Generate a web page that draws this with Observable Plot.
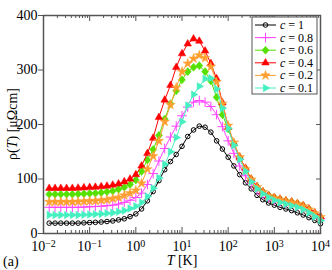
<!DOCTYPE html>
<html><head><meta charset="utf-8">
<script src="https://cdn.jsdelivr.net/npm/d3@7"></script>
<script src="https://cdn.jsdelivr.net/npm/@observablehq/plot@0.6"></script>
<style>
body{margin:0;background:#fff;}
#chart{position:relative;width:332px;height:270px;}
</style></head><body><div id="chart"></div>
<script>
// Temperature grid (K)
const T = [0.0133, 0.0178, 0.0237, 0.0316, 0.0422, 0.0562, 0.075, 0.1, 0.133, 0.178, 0.237, 0.316, 0.422, 0.562, 0.75,
  1, 1.33, 1.78, 2.37, 3.16, 4.22, 5.62, 7.5, 10, 13.3, 17.8, 23.7, 31.6, 42.2, 56.2, 75,
  100, 133, 178, 237, 316, 422, 562, 750, 1000, 1330, 1780, 2370, 3160, 4220, 5620, 7500, 10000];

// resistivity (μΩcm) for each concentration
const rho_c1 = [19, 19, 19, 19, 19, 19, 19.5, 20, 20.5, 21, 22, 23, 25, 27, 31,
  36, 45, 60, 77, 97, 117, 132, 145, 160, 178, 190, 197, 195, 186, 170, 155,
  140, 124, 108, 93, 82, 70, 62, 56, 52, 48, 45, 42, 38, 34, 29, 24, 18];
const rho_c08 = [48, 48, 48, 48, 48, 48, 48.5, 49, 49.5, 50, 51, 52, 54, 57, 61,
  66, 74, 90, 110, 133, 156, 177, 197, 216, 232, 241, 244, 241, 233, 218, 196,
  170, 147, 124, 106, 92, 80, 72, 66, 61, 58, 56, 54, 51, 47, 42, 35, 27];
const rho_c06 = [72, 72, 72, 72, 72, 72.5, 73, 73.5, 74, 75, 76.5, 78, 81, 85, 90,
  98, 114, 135, 154, 180, 210, 238, 262, 282, 297, 305, 308, 297, 280, 250, 218,
  192, 164, 140, 119, 99, 86, 77, 70, 66, 63, 60, 58, 55, 51, 45, 37, 30];
const rho_c04 = [83, 83, 83, 83, 83, 83.5, 84, 84.5, 85, 86, 87, 89, 91, 95, 100,
  108, 124, 147, 175, 213, 245, 272, 305, 330, 348, 357, 353, 335, 312, 284, 240,
  195, 165, 140, 120, 100, 86, 77, 70, 66, 63, 60, 58, 55, 51, 45, 38, 31];
const rho_c02 = [58, 58, 58, 58, 58, 58.5, 59, 59.5, 60, 61, 62, 64, 66, 70, 74,
  79, 92, 118, 142, 170, 205, 236, 268, 297, 312, 321, 327, 322, 306, 278, 238,
  198, 167, 140, 118, 99, 85, 76, 69, 65, 62, 59, 57, 54, 50, 44, 37, 30];
const rho_c01 = [34, 34, 34, 34, 34, 34, 34.5, 35, 35.5, 36, 37, 38, 40, 42, 46,
  50, 57, 68, 83, 102, 127, 150, 176, 205, 235, 255, 270, 284, 285, 265, 230,
  193, 162, 136, 114, 95, 82, 73, 66, 61, 57, 54, 51, 48, 44, 38, 31, 24];

const labels = ["1", "0.8", "0.6", "0.4", "0.2", "0.1"];
const decades = [0.01, 0.1, 1, 10, 100, 1000, 10000];
const yTicks = [0, 100, 200, 300, 400];

const triRight = {draw(ctx, size) {
  const y = -Math.sqrt(size / (Math.sqrt(3) * 3)), s = Math.sqrt(3);
  ctx.moveTo(-2 * y, 0); ctx.lineTo(y, -s * y); ctx.lineTo(y, s * y); ctx.closePath();
}};
const diamondSq = {draw(ctx, size) {
  const r = Math.sqrt(size / 2.3);
  ctx.moveTo(0, -r * 1.15); ctx.lineTo(r, 0); ctx.lineTo(0, r * 1.15); ctx.lineTo(-r, 0); ctx.closePath();
}};

const styles = [
  {values: rho_c1,  color: "#000000", symbol: d3.symbolCircle, filled: false, r: 2.3},
  {values: rho_c08, color: "#ff44ff", symbol: d3.symbolPlus,   filled: false, r: 3.2},
  {values: rho_c06, color: "#55e000", symbol: diamondSq,       filled: true,  r: 3.0},
  {values: rho_c04, color: "#ff0000", symbol: d3.symbolTriangle, filled: true, r: 2.8},
  {values: rho_c02, color: "#ff9f30", symbol: d3.symbolStar,   filled: true,  r: 3.0},
  {values: rho_c01, color: "#44f0c0", symbol: triRight,        filled: true,  r: 2.8}
];

const minorTicks = decades.slice(0, -1).flatMap(d => [2, 3, 4, 5, 6, 7, 8, 9].map(k => k * d));

const seriesMarks = styles.flatMap((s, k) => {
  const rows = T.map((t, i) => ({T: t, rho: s.values[i], c: labels[k]}));
  return [
    Plot.line(rows, {x: "T", y: "rho", stroke: s.color, strokeWidth: 1}),
    Plot.dot(rows, {x: "T", y: "rho", symbol: () => s.symbol, r: s.r,
      fill: s.filled ? s.color : "none", stroke: s.color, strokeWidth: s.filled ? 0.5 : 1})
  ];
});

const plot = Plot.plot({
  width: 332, height: 270,
  marginLeft: 43, marginRight: 12, marginTop: 15, marginBottom: 37,
  style: {fontFamily: "'Liberation Serif', 'Times New Roman', serif", fontSize: "14px", background: "white", color: "black"},
  x: {type: "log", domain: [0.01, 10000]},
  y: {domain: [0, 400]},
  symbol: {type: "identity"},
  marks: [
    ...seriesMarks,
    Plot.ruleX(decades, {x: d => d, y1: 0, y2: 11, stroke: "#555"}),
    Plot.ruleX(minorTicks, {x: d => d, y1: 0, y2: 5.5, stroke: "#555"}),
    Plot.ruleX(decades, {x: d => d, y1: 400, y2: 389, stroke: "#555"}),
    Plot.ruleX(minorTicks, {x: d => d, y1: 400, y2: 394.5, stroke: "#555"}),
    Plot.ruleY(yTicks, {y: d => d, x1: 8190, x2: 10000, stroke: "#555"}),
    Plot.frame({stroke: "#555", strokeWidth: 1.5}),
    Plot.axisY({ticks: yTicks, tickSize: 5, tickPadding: 1, fontSize: 14, stroke: "#555", label: null, tickFormat: d => String(d)}),
    Plot.axisX({ticks: decades, tickSize: 0, tickPadding: 8, fontSize: 14, label: null,
      tickFormat: d => "10|" + Math.round(Math.log10(d))})
  ]
});

document.getElementById("chart").appendChild(plot);
const svg = d3.select(plot);

// superscript exponents on x tick labels
svg.selectAll('g[aria-label="x-axis tick label"] text').each(function () {
  const s = this.textContent;
  if (s.includes("|")) {
    const [base, ex] = s.split("|");
    const t = d3.select(this);
    t.text(base);
    t.append("tspan").attr("dy", "-0.45em").attr("font-size", "10px").text(ex.replace("-", "\u2212"));
  }
});

const font = "'Liberation Serif', 'Times New Roman', serif";
// y label
const yl = svg.append("text").attr("transform", "translate(17,124) rotate(-90)")
  .attr("text-anchor", "middle").attr("font-family", font).attr("font-size", 14).attr("fill", "black");
yl.append("tspan").text("ρ(");
yl.append("tspan").attr("font-style", "italic").text("T");
yl.append("tspan").text(") [μΩcm]");
// x label
const xl = svg.append("text").attr("x", 182).attr("y", 265)
  .attr("text-anchor", "middle").attr("font-family", font).attr("font-size", 14).attr("fill", "black");
xl.append("tspan").attr("font-style", "italic").text("T");
xl.append("tspan").text(" [K]");
// panel label
svg.append("text").attr("x", 3).attr("y", 266).attr("text-anchor", "start")
  .attr("font-family", font).attr("font-size", 14).attr("fill", "black").text("(a)");

// legend
const lg = svg.append("g");
lg.append("rect").attr("x", 252).attr("y", 17).attr("width", 65).attr("height", 77)
  .attr("fill", "white").attr("stroke", "#555").attr("stroke-width", 1);
styles.forEach((s, k) => {
  const y = 25 + k * 12.6;
  lg.append("line").attr("x1", 255).attr("x2", 276).attr("y1", y).attr("y2", y).attr("stroke", s.color).attr("stroke-width", 1);
  lg.append("path").attr("transform", `translate(265.5,${y})`)
    .attr("d", d3.symbol(s.symbol, s.r * s.r * Math.PI)())
    .attr("fill", s.filled ? s.color : "none").attr("stroke", s.color).attr("stroke-width", s.filled ? 0.5 : 1);
  const t = lg.append("text").attr("x", 280).attr("y", y + 4).attr("text-anchor", "start")
    .attr("font-family", font).attr("font-size", 12).attr("fill", "black");
  t.append("tspan").attr("font-style", "italic").text("c");
  t.append("tspan").text(" = " + labels[k]);
});
</script></body></html>
